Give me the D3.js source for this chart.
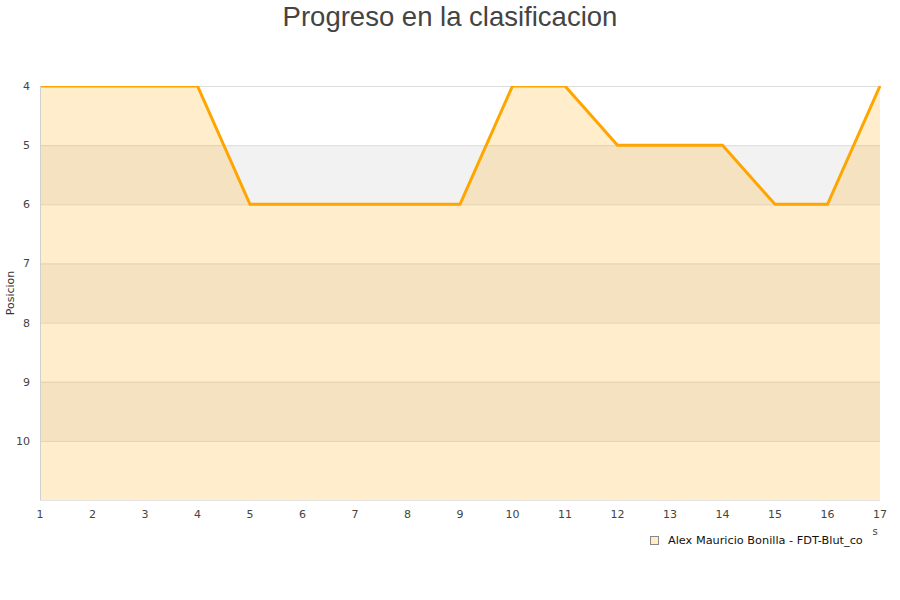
<!DOCTYPE html>
<html><head><meta charset="utf-8">
<script src="https://cdn.jsdelivr.net/npm/d3@7"></script>
<style>body{margin:0;background:#fff;font-family:"DejaVu Sans",sans-serif}</style>
</head><body><svg id="c" width="900" height="600"></svg>
<script>
const rounds = [1,2,3,4,5,6,7,8,9,10,11,12,13,14,15,16,17];
const positions = [4,4,4,4,6,6,6,6,6,4,4,5,5,5,6,6,4];
const yTicks = [4,5,6,7,8,9,10];
const seriesName = "Alex Mauricio Bonilla - FDT-Blut_co";
const title = "Progreso en la clasificacion";
const yTitle = "Posicion";

const svg = d3.select("#c");
const L=40,R=880,T=86,B=500;
const x = d3.scaleLinear().domain([1,17]).range([L,R]);
const y = d3.scaleLinear().domain([4,11]).range([T,B]);

// bands
const bands = d3.range(4,11);
svg.selectAll("rect.band").data(bands).enter().append("rect")
  .attr("x",L).attr("width",R-L)
  .attr("y",d=>y(d)).attr("height",d=>y(d+1)-y(d))
  .attr("fill",(d,i)=>i%2? "#f2f2f2":"#ffffff");
// grid
svg.selectAll("line.grid").data(yTicks).enter().append("line")
  .attr("x1",L).attr("x2",R).attr("y1",d=>y(d)+0.5).attr("y2",d=>y(d)+0.5)
  .attr("stroke","#dcdcdc").attr("stroke-width",1);

const data = rounds.map((r,i)=>({r,p:positions[i]}));
svg.append("defs").append("clipPath").attr("id","clip").append("rect")
  .attr("x",L).attr("y",T).attr("width",R-L+2).attr("height",B-T);
const g = svg.append("g").attr("clip-path","url(#clip)");
g.append("path").datum(data)
  .attr("d",d3.area().x(d=>x(d.r)).y0(y(11)).y1(d=>y(d.p)))
  .attr("fill","rgba(255,165,0,0.2)");
g.append("path").datum(data)
  .attr("d",d3.line().x(d=>x(d.r)).y(d=>y(d.p)))
  .attr("fill","none").attr("stroke","#FFA500").attr("stroke-width",3);

// border
svg.append("line").attr("x1",L+0.5).attr("x2",L+0.5).attr("y1",T).attr("y2",B).attr("stroke","#d0d0d0");
svg.append("line").attr("x1",L).attr("x2",R).attr("y1",B+0.5).attr("y2",B+0.5).attr("stroke","#e6e6e6");

// axes labels
svg.selectAll("text.yt").data(yTicks).enter().append("text")
  .attr("x",30).attr("y",d=>y(d)+4).attr("text-anchor","end")
  .attr("font-size",11).attr("fill","#444").text(d=>d);
svg.selectAll("text.xt").data(rounds).enter().append("text")
  .attr("x",d=>x(d)).attr("y",518).attr("text-anchor","middle")
  .attr("font-size",11).attr("fill","#444").text(d=>d);
svg.append("text").attr("transform","translate(14,293) rotate(-90)")
  .attr("text-anchor","middle").attr("font-size",11).attr("fill","#333").text(yTitle);
svg.append("text").attr("x",875).attr("y",535).attr("text-anchor","middle")
  .attr("font-size",10).attr("fill","#444").text("s");

svg.append("text").attr("x",450).attr("y",26).attr("text-anchor","middle")
  .attr("font-family","'Liberation Sans', Arial, sans-serif")
  .attr("font-size",27.5).attr("fill","#444").text(title);

// legend
svg.append("rect").attr("x",650.5).attr("y",536.5).attr("width",8).attr("height",8)
  .attr("fill","#FFEDCC").attr("stroke","#888");
svg.append("text").attr("x",668).attr("y",544).attr("font-size",11.3).attr("fill","#111").text(seriesName);
</script></body></html>
